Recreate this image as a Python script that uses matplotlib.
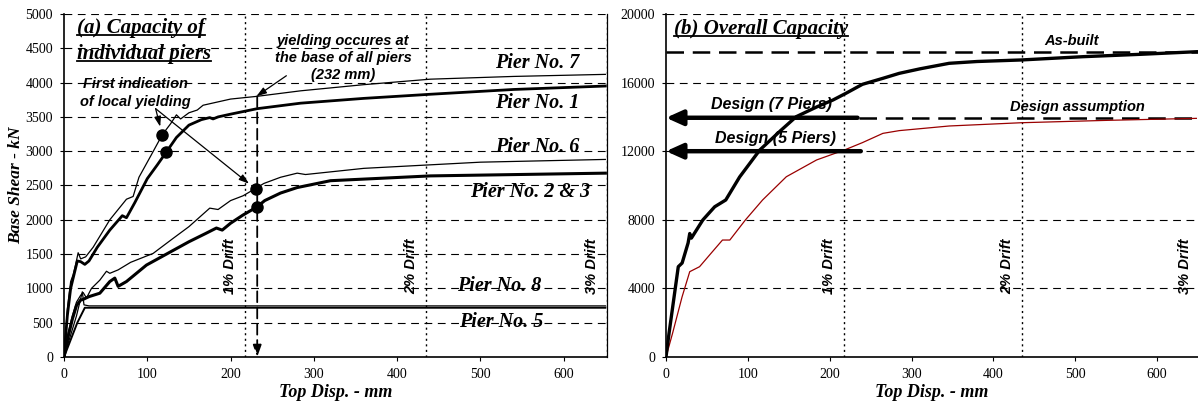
import matplotlib
matplotlib.use("Agg")
import matplotlib.pyplot as plt
import numpy as np

# ---------------- data ----------------
# Left panel: individual piers (Top Disp. mm, Base Shear kN)
p7_x = [0, 4, 8, 11, 14, 17, 20, 26, 35, 45, 55, 65, 75, 83, 90, 105, 118, 128, 135, 140, 150, 160, 167, 200, 232, 284, 360, 440, 540, 650]
p7_y = [0, 700, 1100, 1200, 1350, 1520, 1430, 1460, 1600, 1800, 2000, 2150, 2300, 2340, 2620, 2950, 3240, 3400, 3530, 3470, 3560, 3600, 3670, 3760, 3800, 3880, 3970, 4050, 4090, 4120]

p1_x = [0, 4, 8, 12, 16, 20, 25, 30, 40, 55, 70, 75, 85, 100, 112, 123, 135, 150, 165, 175, 179, 185, 200, 232, 284, 360, 440, 540, 650]
p1_y = [0, 600, 1000, 1200, 1400, 1390, 1350, 1400, 1600, 1850, 2060, 2030, 2250, 2600, 2800, 2990, 3200, 3380, 3460, 3490, 3470, 3500, 3540, 3620, 3700, 3770, 3830, 3900, 3950]

p6_x = [0, 5, 10, 15, 20, 23, 27, 33, 43, 51, 55, 65, 80, 107, 130, 150, 175, 185, 200, 215, 229, 240, 260, 280, 290, 360, 500, 650]
p6_y = [0, 350, 600, 800, 900, 940, 860, 1000, 1120, 1250, 1220, 1270, 1380, 1510, 1720, 1900, 2170, 2150, 2280, 2350, 2450, 2530, 2620, 2680, 2660, 2750, 2840, 2880]

p23_x = [0, 5, 10, 15, 20, 23, 30, 43, 55, 61, 65, 75, 90, 99, 120, 150, 170, 183, 190, 200, 215, 232, 241, 260, 280, 320, 440, 650]
p23_y = [0, 300, 550, 750, 830, 840, 880, 930, 1100, 1150, 1030, 1100, 1250, 1340, 1480, 1680, 1800, 1880, 1850, 1950, 2070, 2190, 2280, 2390, 2470, 2570, 2640, 2680]

p8_x = [0, 5, 10, 15, 20, 22, 24, 30, 650]
p8_y = [0, 200, 400, 600, 850, 950, 760, 745, 745]

p5_x = [0, 8, 16, 25, 650]
p5_y = [0, 250, 500, 718, 718]

# Right panel: overall capacity (Top Disp. mm, Base Shear kN)
asb_x = [0, 3.7, 10.5, 15, 19.7, 27, 29, 31, 45, 59.5, 73, 90, 114.6, 140, 159, 185, 204, 220, 240, 265, 285, 310, 346, 380, 434, 509, 580, 648]
asb_y = [0, 1380, 3720, 5265, 5480, 6650, 7200, 6930, 7990, 8760, 9155, 10500, 12070, 13200, 14010, 14600, 14985, 15380, 15900, 16250, 16540, 16800, 17125, 17230, 17320, 17510, 17650, 17800]

des_x = [0, 8, 19.6, 29, 41, 55, 69, 78, 97, 118, 147, 184, 218, 240, 265, 285, 346, 434, 540, 648]
des_y = [0, 1380, 3500, 4975, 5265, 6045, 6820, 6820, 7990, 9155, 10510, 11490, 12070, 12500, 13040, 13200, 13470, 13660, 13800, 13915]

# markers
dots_x = [118, 123, 230, 232]
dots_y = [3240, 2990, 2450, 2190]

drift_x = [217.5, 435, 652.5]
drift_lbl = ["1% Drift", "2% Drift", "3% Drift"]

asbuilt_level = 17800
design7_level = 13950
design5_level = 12000

left_yticks = list(range(0, 5001, 500))
right_yticks = list(range(0, 20001, 4000))
xticks = list(range(0, 601, 100))

# ---------------- style ----------------
SERIF = ["Liberation Serif", "DejaVu Serif"]
SANS = ["Liberation Sans", "DejaVu Sans"]

fig = plt.figure(figsize=(11.98, 4.09), dpi=100)
W, H = 1198, 409
ax1 = fig.add_axes([64 / W, 52 / H, 543 / W, 343 / H])
ax2 = fig.add_axes([666 / W, 52 / H, 532 / W, 343 / H])

grid_ls = (0, (7, 5))


def style_axes(ax, yticks, ymax):
    ax.set_xlim(0, 652)
    ax.set_ylim(0, ymax)
    ax.set_xticks(xticks)
    ax.set_yticks(yticks)
    for t in ax.get_xticklabels() + ax.get_yticklabels():
        t.set_fontfamily(SERIF)
        t.set_fontsize(10)
    ax.tick_params(direction="out", length=3, width=0.8, pad=5)
    for y in yticks[1:]:
        ax.axhline(y, color="black", lw=0.8, ls=grid_ls, zorder=2)
    ax.spines["top"].set_visible(False)
    ax.spines["left"].set_linewidth(1.2)
    ax.spines["bottom"].set_linewidth(1.2)
    ax.set_xlabel("Top Disp. - mm", fontfamily=SERIF, fontsize=13,
                  fontweight="bold", fontstyle="italic", labelpad=2)


style_axes(ax1, left_yticks, 5000)
style_axes(ax2, right_yticks, 20000)
ax2.set_xlim(0, 650)
ax1.spines["right"].set_linewidth(0.9)
ax2.spines["right"].set_visible(False)
ax1.set_ylabel("Base Shear - kN", fontfamily=SERIF, fontsize=12.5,
               fontweight="bold", fontstyle="italic", labelpad=1)

# drift lines
for ax, top in ((ax1, 5000), (ax2, 20000)):
    for dx, lbl in zip(drift_x, drift_lbl):
        ax.axvline(dx, color="black", lw=1.0, ls=(0, (1.5, 2.5)), zorder=2)
        ax.text(dx - 18, top * 0.265, lbl, rotation=90, ha="center", va="center",
                fontfamily=SANS, fontsize=10.5, fontweight="bold", fontstyle="italic",
                zorder=4)

# ---------------- left panel ----------------
ax1.plot(p7_x, p7_y, color="black", lw=0.9, zorder=5)
ax1.plot(p1_x, p1_y, color="black", lw=2.0, zorder=5)
ax1.plot(p6_x, p6_y, color="black", lw=0.9, zorder=5)
ax1.plot(p23_x, p23_y, color="black", lw=2.2, zorder=5)
ax1.plot(p8_x, p8_y, color="black", lw=0.9, zorder=5)
ax1.plot(p5_x, p5_y, color="black", lw=1.4, zorder=5)
ax1.plot(dots_x, dots_y, "o", color="black", ms=8, zorder=6)

# vertical dashed line at 232 mm with arrow
ax1.annotate("", xy=(232, 0), xytext=(232, 3800),
             arrowprops=dict(arrowstyle="-|>,head_length=0.7,head_width=0.25",
                             lw=1.3, ls=(0, (6, 3)), color="black",
                             shrinkA=0, shrinkB=0), zorder=6)

pier_font = dict(fontfamily=SERIF, fontsize=14.5, fontweight="bold", fontstyle="italic",
                 ha="left", va="center", zorder=1)
ax1.text(517, 4290, "Pier No. 7", **pier_font)
ax1.text(517, 3700, "Pier No. 1", **pier_font)
ax1.text(517, 3060, "Pier No. 6", **pier_font)
ax1.text(488, 2400, "Pier No. 2 & 3", **pier_font)
ax1.text(472, 1035, "Pier No. 8", **pier_font)
ax1.text(474, 510, "Pier No. 5", **pier_font)

ann_font = dict(fontfamily=SANS, fontsize=10.5, fontweight="bold", fontstyle="italic",
                zorder=7)
ax1.text(86, 3845, "First indication\nof local yielding", ha="center", va="center",
         linespacing=1.35, **ann_font)
for tx, ty in ((118, 3240), (230, 2450)):
    ax1.annotate("", xy=(tx, ty), xytext=(110, 3620),
                 arrowprops=dict(arrowstyle="-|>,head_length=0.6,head_width=0.2",
                                 lw=0.9, color="black", shrinkA=0, shrinkB=6),
                 zorder=7)
ax1.text(335, 4360, "yielding occures at\nthe base of all piers\n(232 mm)", ha="center",
         va="center", linespacing=1.25, **ann_font)
ax1.annotate("", xy=(231, 3800), xytext=(267, 4100),
             arrowprops=dict(arrowstyle="-|>,head_length=0.6,head_width=0.2",
                             lw=0.9, color="black", shrinkA=0, shrinkB=0), zorder=7)

title_font = dict(fontfamily=SERIF, fontsize=15, fontweight="bold", fontstyle="italic",
                  ha="left", va="center", zorder=7)
t1 = ax1.text(16, 4790, "(a) Capacity of", **title_font)
t2 = ax1.text(16, 4410, "individual piers", **title_font)

# ---------------- right panel ----------------
ax2.plot(des_x, des_y, color="#990000", lw=0.9, zorder=5)
ax2.plot(asb_x, asb_y, color="black", lw=2.4, zorder=5)

ax2.axhline(asbuilt_level, color="black", lw=1.8, ls=(0, (7, 3.5)), zorder=3)
ax2.plot([236, 650], [design7_level, design7_level], color="black", lw=1.8,
         ls=(0, (7, 3.5)), zorder=3)
for lvl, x_end in ((design7_level, 234), (design5_level, 238)):
    ax2.annotate("", xy=(0, lvl), xytext=(x_end, lvl),
                 arrowprops=dict(arrowstyle="-|>,head_length=1.0,head_width=0.45",
                                 lw=3.2, color="black", shrinkA=0, shrinkB=0),
                 zorder=6)

ax2.text(495, 18450, "As-built", ha="center", va="center", **ann_font)
ax2.text(503, 14600, "Design assumption", ha="center", va="center", **ann_font)
ax2.text(129, 14750, "Design (7 Piers)", ha="center", va="center",
         fontfamily=SANS, fontsize=11.5, fontweight="bold", fontstyle="italic", zorder=7)
ax2.text(134, 12750, "Design (5 Piers)", ha="center", va="center",
         fontfamily=SANS, fontsize=11.5, fontweight="bold", fontstyle="italic", zorder=7)
t3 = ax2.text(10, 19100, "(b) Overall Capacity", **title_font)

# underline titles
fig.canvas.draw()
renderer = fig.canvas.get_renderer()
inv = fig.transFigure.inverted()
for t in (t1, t2, t3):
    bb = t.get_window_extent(renderer)
    (x0, y0), (x1, y1) = inv.transform([[bb.x0, bb.y0], [bb.x1, bb.y1]])
    yl = y0 + 0.15 * (y1 - y0)
    fig.add_artist(plt.Line2D([x0, x1], [yl, yl], transform=fig.transFigure,
                              color="black", lw=1.3))

fig.savefig("out.png", dpi=100)
